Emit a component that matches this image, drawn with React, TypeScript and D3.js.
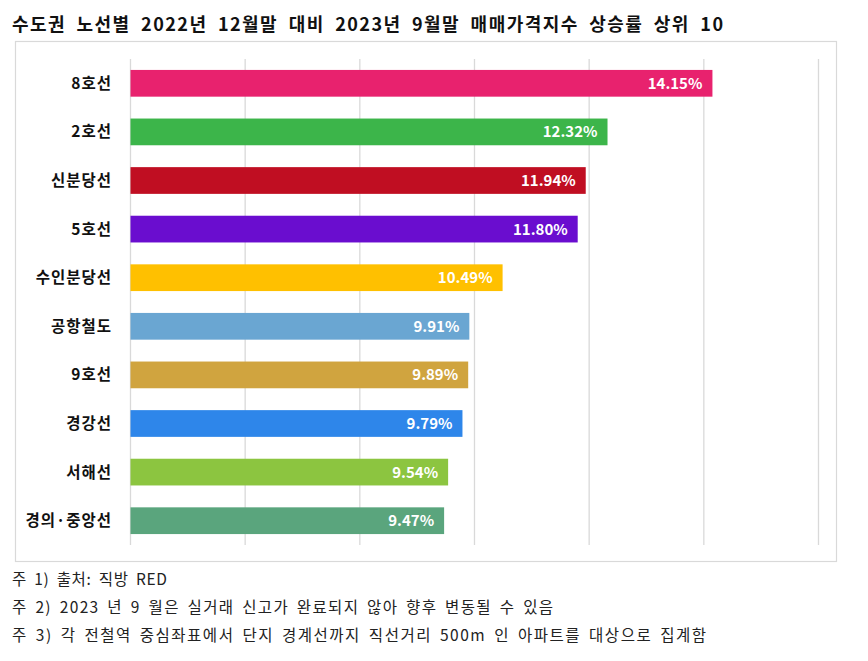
import * as React from 'react'
import * as d3 from 'd3'

const lines = ['8호선', '2호선', '신분당선', '5호선', '수인분당선', '공항철도', '9호선', '경강선', '서해선', '경의·중앙선']
const rates = [14.15, 12.32, 11.94, 11.8, 10.49, 9.91, 9.89, 9.79, 9.54, 9.47]
const barColors = ['#e8226e', '#3cb54a', '#c00e22', '#6a0dcf', '#ffc000', '#6aa6d2', '#d0a43f', '#2e86ea', '#8cc540', '#5aa57d']
const gridTicks = [4, 6, 8, 10, 12, 14, 16]
const title = '수도권 노선별 2022년 12월말 대비 2023년 9월말 매매가격지수 상승률 상위 10'
const notes = [
  '주 1) 출처: 직방 RED',
  '주 2) 2023 년 9 월은 실거래 신고가 완료되지 않아 향후 변동될 수 있음',
  '주 3) 각 전철역 중심좌표에서 단지 경계선까지 직선거리 500m 인 아파트를 대상으로 집계함',
]
// measured widths of the title and note lines in the picture
const titleWidth = 711
const noteWidths = [155, 541, 694]

const W = 868
const H = 661
const FONT = '"Noto Sans CJK KR", "Noto Sans", sans-serif'

export default function App() {
  const x = d3.scaleLinear().domain([4, 16]).range([130.5, 818.5])
  const y = d3.scaleBand<string>()
    .domain(lines)
    .range([59, 545])
    .paddingInner(0.45)
    .paddingOuter(0.225)

  return (
    <svg
      width={W}
      height={H}
      style={{ position: 'absolute', left: 0, top: 0, background: '#fff' }}
      fontFamily={FONT}
    >
      <rect x={0} y={0} width={W} height={H} fill="#fff" />
      <text
        x={12}
        y={31}
        fontSize={18}
        fontWeight={700}
        fill="#111"
        wordSpacing={5}
        textLength={titleWidth}
        lengthAdjust="spacing"
      >
        {title}
      </text>

      {/* chart frame */}
      <rect x={15.5} y={41.5} width={821} height={520} fill="#fff" stroke="#d9d9d9" strokeWidth={1.2} />

      {/* gridlines */}
      {gridTicks.map(t => (
        <line key={t} x1={x(t)} x2={x(t)} y1={59} y2={545} stroke="#d9d9d9" strokeWidth={1.3} />
      ))}

      {/* bars */}
      {lines.map((name, i) => {
        const y0 = y(name)!
        const bh = y.bandwidth()
        return (
          <g key={name}>
            <rect x={x(4)} y={y0} width={x(rates[i]) - x(4)} height={bh} fill={barColors[i]} />
            <text
              x={x(rates[i]) - 10}
              y={y0 + bh / 2}
              dy="0.36em"
              textAnchor="end"
              fontSize={15}
              fontWeight={700}
              fill="#fff"
            >
              {rates[i].toFixed(2)}%
            </text>
            <text
              x={112}
              y={y0 + bh / 2}
              dy="0.36em"
              textAnchor="end"
              fontSize={15.5}
              fontWeight={700}
              letterSpacing={1}
              fill="#111"
            >
              {name}
            </text>
          </g>
        )
      })}

      {/* footnotes */}
      {notes.map((n, i) => (
        <text
          key={i}
          x={12}
          y={585 + i * 28}
          fontSize={15.5}
          fill="#222"
          wordSpacing={3}
          textLength={noteWidths[i]}
          lengthAdjust="spacing"
        >
          {n}
        </text>
      ))}
    </svg>
  )
}
